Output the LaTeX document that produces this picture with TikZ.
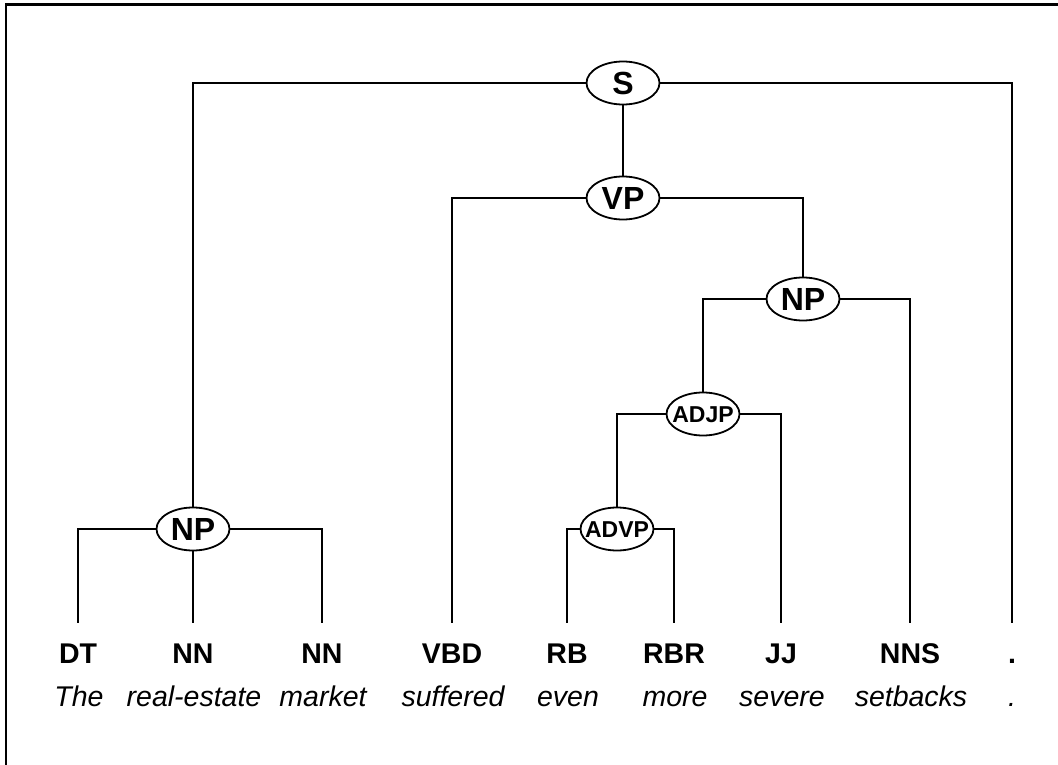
\documentclass[tikz,border=0pt]{standalone}
\usepackage{fontspec}
\setmainfont{Liberation Sans}
\usetikzlibrary{shapes.geometric}
\newcommand{\phlabel}[1]{\makebox[0pt]{\raisebox{-0.358em}[0pt][0pt]{#1}}}
\tikzset{
  x=1pt, y=1pt,
  phrase/.style={ellipse, draw, line width=1.8pt, minimum width=73pt, minimum height=43pt, inner sep=0pt, outer sep=0pt, fill=white},
  bigph/.style={phrase, font=\bfseries\fontsize{32}{32}\selectfont},
  smallph/.style={phrase, font=\bfseries\fontsize{23}{23}\selectfont},
  tagnode/.style={anchor=base, inner sep=0pt, text height=40pt, font=\bfseries\fontsize{28.5}{28.5}\selectfont},
  wordnode/.style={anchor=base, inner sep=0pt, font=\itshape\fontsize{28.5}{28.5}\selectfont},
  branch/.style={line width=1.5pt},
  frameline/.style={line width=2.6pt}
}
\begin{document}
\begin{tikzpicture}
\useasboundingbox (0,0) rectangle (1058,-765);
\coordinate (fbl) at (6,-766);
\coordinate (ftl) at (6,-4.7);
\coordinate (ftr) at (1059,-4.7);
\draw[frameline] (fbl) -- (ftl) -- (ftr);

% phrase nodes
\node[bigph] (s) at (623,-83) {\phlabel{S}};
\node[bigph] (vp) at (623,-198) {\phlabel{VP}};
\node[bigph] (np2) at (803,-299) {\phlabel{NP}};
\node[smallph] (adjp) at (703,-414) {\phlabel{ADJP}};
\node[smallph] (advp) at (617,-529) {\phlabel{ADVP}};
\node[bigph] (np1) at (193,-529) {\phlabel{NP}};

% tags
\node[tagnode] (dt) at (78,-663) {DT};
\node[tagnode] (nn1) at (193,-663) {NN};
\node[tagnode] (nn2) at (322,-663) {NN};
\node[tagnode] (vbd) at (452,-663) {VBD};
\node[tagnode] (rb) at (567,-663) {RB};
\node[tagnode] (rbr) at (674,-663) {RBR};
\node[tagnode] (jj) at (781,-663) {JJ};
\node[tagnode] (nns) at (910,-663) {NNS};
\node[tagnode] (dot) at (1012,-663) {.};

% words
\node[wordnode] (w1) at (79,-706) {The};
\node[wordnode] (w2) at (194,-706) {real-estate};
\node[wordnode] (w3) at (323,-706) {market};
\node[wordnode] (w4) at (453,-706) {suffered};
\node[wordnode] (w5) at (568,-706) {even};
\node[wordnode] (w6) at (675,-706) {more};
\node[wordnode] (w7) at (782,-706) {severe};
\node[wordnode] (w8) at (911,-706) {setbacks};
\node[wordnode] (w9) at (1012,-706) {.};

% branches
\draw[branch] (s.west) -| (np1.north);
\draw[branch] (s.east) -| (dot.north);
\draw[branch] (s.south) -- (vp.north);
\draw[branch] (vp.west) -| (vbd.north);
\draw[branch] (vp.east) -| (np2.north);
\draw[branch] (np2.west) -| (adjp.north);
\draw[branch] (np2.east) -| (nns.north);
\draw[branch] (adjp.west) -| (advp.north);
\draw[branch] (adjp.east) -| (jj.north);
\draw[branch] (advp.west) -| (rb.north);
\draw[branch] (advp.east) -| (rbr.north);
\draw[branch] (np1.west) -| (dt.north);
\draw[branch] (np1.south) -- (nn1.north);
\draw[branch] (np1.east) -| (nn2.north);
\end{tikzpicture}
\end{document}
